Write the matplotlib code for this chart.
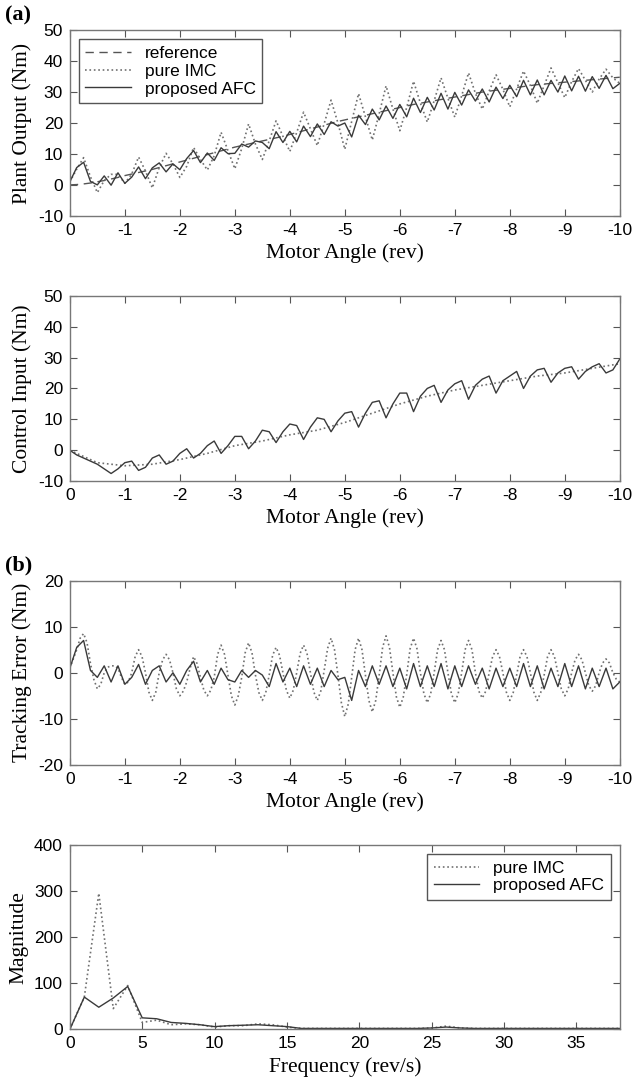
import numpy as np
import matplotlib.pyplot as plt

# motor angle grids (rev), 0 .. -10 in steps of 1/8 and 1/16 rev
angle = np.linspace(0, -10, 81)
angle_fine = np.linspace(0, -10, 161)

# reference torque (Nm)
reference = [0.0, 0.1, 0.3, 0.6, 1.0, 1.4, 1.9, 2.4, 3.0, 3.5, 4.0, 4.5, 5.0, 5.6, 6.2, 6.8,
             7.4, 8.0, 8.6, 9.2, 9.8, 10.4, 11.0, 11.6, 12.2, 12.7, 13.2, 13.7, 14.2, 14.7, 15.2, 15.7,
             16.3, 16.9, 17.5, 18.1, 18.7, 19.3, 19.9, 20.5, 21.0, 21.5, 22.0, 22.5, 23.0, 23.5, 24.0, 24.5,
             25.0, 25.5, 26.0, 26.4, 26.8, 27.2, 27.6, 28.0, 28.4, 28.8, 29.2, 29.6, 30.0, 30.3, 30.6, 30.9,
             31.2, 31.5, 31.8, 32.1, 32.4, 32.6, 32.8, 33.0, 33.2, 33.4, 33.6, 33.8, 34.0, 34.2, 34.4, 34.6,
             34.8]

# tracking error of pure IMC (Nm), every 1/16 rev
err_imc = [1.0, 3.0, 5.0, 7.5, 8.5, 6.5, 2.0, -1.5, -3.5, -2.5, 0.0, 1.2, 1.5, 1.5, 1.0, -1.0,
           -2.5, -2.0, 0.0, 3.5, 5.0, 3.5, 0.0, -4.2, -6.0, -4.2, 0.0, 2.8, 4.0, 2.8, 0.0, -3.5,
           -5.0, -4.0, -2.0, 1.0, 3.5, 2.0, -1.0, -3.8, -5.0, -3.8, -1.0, 4.0, 6.0, 4.0, -0.5, -5.0,
           -7.0, -5.0, -1.0, 4.3, 6.5, 4.3, -0.5, -4.3, -6.0, -4.3, -0.5, 3.8, 5.5, 3.8, 0.0, -3.8,
           -5.5, -3.8, 0.0, 4.2, 6.0, 4.2, 0.0, -4.2, -6.0, -4.0, 0.5, 5.3, 7.5, 5.0, -0.5, -6.5,
           -9.5, -6.8, -1.0, 5.0, 7.5, 5.0, -0.5, -6.0, -8.5, -6.0, -0.5, 5.5, 8.0, 5.5, 0.0, -5.2,
           -7.5, -5.3, -0.5, 5.2, 7.5, 5.2, 0.0, -4.5, -6.5, -4.5, 0.0, 5.0, 7.0, 5.0, 0.0, -4.5,
           -6.5, -4.5, 0.0, 5.0, 7.0, 5.0, 0.0, -4.0, -5.5, -4.0, 0.0, 3.5, 5.0, 3.5, 0.0, -4.2,
           -6.0, -4.3, -0.5, 3.5, 5.0, 3.5, 0.0, -4.2, -6.0, -4.3, -0.5, 3.5, 5.0, 3.5, 0.0, -3.5,
           -5.0, -3.5, 0.0, 2.8, 4.0, 2.8, 0.0, -2.8, -4.0, -2.8, 0.0, 2.1, 3.0, 2.1, 0.0, -1.4,
           -2.0]

# tracking error of proposed AFC (Nm), every 1/8 rev
err_afc = [1.0, 5.5, 7.0, 0.5, -1.0, 1.5, -2.0, 1.5, -2.5, -1.0, 1.8, -2.5, 0.5, 1.5, -2.0, 0.0,
           -2.5, 0.5, 2.5, -2.0, 0.5, -2.5, 1.0, -1.5, -2.0, 0.5, -1.0, 0.5, -0.5, -3.0, 2.0, -2.0,
           1.0, -3.0, 1.5, -2.5, 1.0, -3.0, 0.5, -1.5, -1.0, -6.0, 0.5, -3.0, 1.5, -2.5, 1.5, -3.0,
           1.0, -3.5, 2.0, -3.0, 1.5, -3.0, 2.0, -3.5, 1.5, -3.0, 1.5, -2.5, 1.0, -3.5, 1.0, -3.0,
           1.0, -3.0, 2.0, -3.0, 1.5, -3.5, 1.0, -3.0, 2.0, -3.0, 1.5, -3.5, 1.0, -3.0, 1.0, -3.5,
           -2.0]

# control input (Nm)
ctrl_angle = np.linspace(0, -10, 21)
ctrl_imc = [0.0, -4.0, -5.0, -4.5, -3.0, -1.0, 1.5, 3.0, 5.0, 6.5, 9.0,
            12.0, 15.0, 17.5, 19.5, 21.0, 22.5, 24.0, 25.0, 26.5, 28.0]
ctrl_afc = [0.0, -1.5, -2.5, -3.5, -4.5, -6.0, -7.5, -6.0, -4.0, -3.5, -6.5, -5.5, -2.5, -1.5, -4.5, -3.5,
            -1.0, 0.5, -2.5, -1.0, 1.5, 3.0, -1.0, 1.5, 4.5, 4.5, 0.5, 3.0, 6.5, 6.0, 2.5, 6.0,
            8.5, 8.0, 3.5, 7.5, 10.5, 10.0, 6.0, 9.5, 12.0, 12.5, 7.5, 12.0, 15.5, 16.0, 10.5, 15.0,
            18.5, 18.5, 12.5, 17.5, 20.0, 21.0, 15.5, 19.5, 21.5, 22.5, 16.5, 21.0, 23.0, 24.0, 18.5, 22.5,
            24.0, 25.5, 20.0, 24.0, 26.0, 26.5, 22.0, 25.0, 26.5, 27.0, 23.0, 25.5, 27.0, 28.0, 25.0, 26.0,
            29.5]

# spectrum of the tracking error
freq = np.arange(0, 39)
mag_imc = [0, 70, 295, 45, 95, 15, 20, 10, 12, 10, 5, 8, 8, 12, 10, 5, 2, 2, 2, 2,
           2, 2, 2, 2, 2, 3, 7, 3, 2, 2, 2, 2, 2, 2, 2, 2, 2, 2, 2]
mag_afc = [0, 70, 48, 68, 93, 25, 23, 15, 13, 10, 6, 8, 9, 10, 8, 6, 2, 2, 2, 2,
           2, 2, 2, 2, 2, 3, 5, 3, 2, 2, 2, 2, 2, 2, 2, 2, 2, 2, 2]

# plant output = reference + tracking error
out_imc = np.array(reference) + np.array(err_imc[::2])
out_afc = np.array(reference) + np.array(err_afc)

serif = ['Liberation Serif', 'DejaVu Serif']
plt.rcParams['font.family'] = ['Liberation Sans', 'DejaVu Sans']
plt.rcParams['font.size'] = 12.5
plt.rcParams['axes.unicode_minus'] = False

c_solid = '#3a3a3a'
c_dot = '#707070'

fig = plt.figure(figsize=(6.35, 10.79), dpi=100)
L, W = 0.110, 0.866
ax1 = fig.add_axes([L, 0.800, W, 0.172])
ax2 = fig.add_axes([L, 0.554, W, 0.172])
ax3 = fig.add_axes([L, 0.291, W, 0.171])
ax4 = fig.add_axes([L, 0.046, W, 0.171])


def style(ax):
    ax.tick_params(direction='in', top=True, right=True, length=5, width=0.8,
                   color='#555555', pad=5)
    for s in ax.spines.values():
        s.set_color('#777777')
        s.set_linewidth(1.0)


ax1.plot(angle, reference, '--', color='#555555', lw=1.0, dashes=(6, 4), label='reference')
ax1.plot(angle, out_imc, ':', color=c_dot, lw=1.2, label='pure IMC')
ax1.plot(angle, out_afc, '-', color=c_solid, lw=1.0, label='proposed AFC')
ax1.set_xlim(0, -10)
ax1.set_ylim(-10, 50)
ax1.set_xticks(np.arange(0, -11, -1))
ax1.set_yticks(np.arange(-10, 51, 10))
ax1.set_xlabel('Motor Angle (rev)', family=serif, fontsize=15.5)
ax1.set_ylabel('Plant Output (Nm)', family=serif, fontsize=15.5)
leg = ax1.legend(loc='upper left', fancybox=False, edgecolor='#555555', framealpha=1,
                 handlelength=2.6, borderpad=0.4, labelspacing=0.15, fontsize=12.5)
leg.get_frame().set_linewidth(1.0)
style(ax1)

ax2.plot(ctrl_angle, ctrl_imc, ':', color=c_dot, lw=1.2)
ax2.plot(angle, ctrl_afc, '-', color=c_solid, lw=1.0)
ax2.set_xlim(0, -10)
ax2.set_ylim(-10, 50)
ax2.set_xticks(np.arange(0, -11, -1))
ax2.set_yticks(np.arange(-10, 51, 10))
ax2.set_xlabel('Motor Angle (rev)', family=serif, fontsize=15.5)
ax2.set_ylabel('Control Input (Nm)', family=serif, fontsize=15.5)
style(ax2)

ax3.plot(angle_fine, err_imc, ':', color=c_dot, lw=1.2)
ax3.plot(angle, err_afc, '-', color=c_solid, lw=1.0)
ax3.set_xlim(0, -10)
ax3.set_ylim(-20, 20)
ax3.set_xticks(np.arange(0, -11, -1))
ax3.set_yticks(np.arange(-20, 21, 10))
ax3.set_xlabel('Motor Angle (rev)', family=serif, fontsize=15.5)
ax3.set_ylabel('Tracking Error (Nm)', family=serif, fontsize=15.5)
style(ax3)

ax4.plot(freq, mag_imc, ':', color=c_dot, lw=1.2, label='pure IMC')
ax4.plot(freq, mag_afc, '-', color=c_solid, lw=1.0, label='proposed AFC')
ax4.set_xlim(0, 38)
ax4.set_ylim(0, 400)
ax4.set_xticks(np.arange(0, 36, 5))
ax4.set_yticks(np.arange(0, 401, 100))
ax4.set_xlabel('Frequency (rev/s)', family=serif, fontsize=15.5)
ax4.set_ylabel('Magnitude', family=serif, fontsize=15.5)
leg = ax4.legend(loc='upper right', fancybox=False, edgecolor='#555555', framealpha=1,
                 handlelength=2.6, borderpad=0.4, labelspacing=0.15, fontsize=12.5)
leg.get_frame().set_linewidth(1.0)
style(ax4)

fig.text(0.008, 0.986, '(a)', family=serif, fontsize=16, fontweight='bold', va='center')
fig.text(0.008, 0.476, '(b)', family=serif, fontsize=16, fontweight='bold', va='center')

fig.savefig('out.png', dpi=100)
